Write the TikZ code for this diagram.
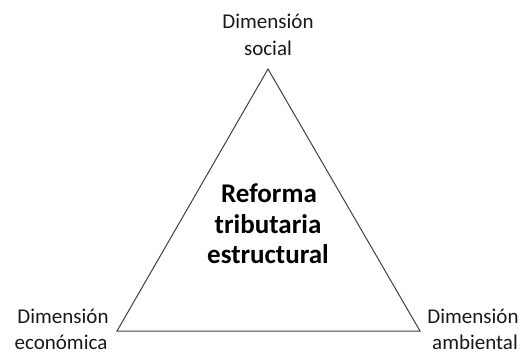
\documentclass[tikz,border=0pt]{standalone}
\usepackage{fontspec}
\setmainfont{Carlito}
\begin{document}
\begin{tikzpicture}[x=1pt,y=-1pt,
  label/.style={inner sep=0pt,anchor=base,font=\fontsize{21}{27}\selectfont,text=black!90},
  title/.style={inner sep=0pt,anchor=base,font=\fontsize{27}{31}\selectfont\bfseries,text=black},
  edge/.style={draw=black!75,line width=1pt,line join=miter}]
\useasboundingbox (0,0) rectangle (526,354);
% corners of the triangle
\coordinate (top) at (268,69);
\coordinate (left) at (117,331);
\coordinate (right) at (420,331);
\draw[edge] (top) -- (left) -- (right) -- cycle;
% corner labels, one node per line, placed by baseline
\node[label] (social1) at (268,28) {Dimensión};
\node[label] (social2) at (268,55) {social};
\node[label] (econ1) at (63,323) {Dimensión};
\node[label] (econ2) at (61,349) {económica};
\node[label] (amb1) at (473,323) {Dimensión};
\node[label] (amb2) at (475,349) {ambiental};
% central title
\node[title] (title1) at (269,202) {Reforma};
\node[title] (title2) at (268,233) {tributaria};
\node[title] (title3) at (268,263) {estructural};
\end{tikzpicture}
\end{document}
